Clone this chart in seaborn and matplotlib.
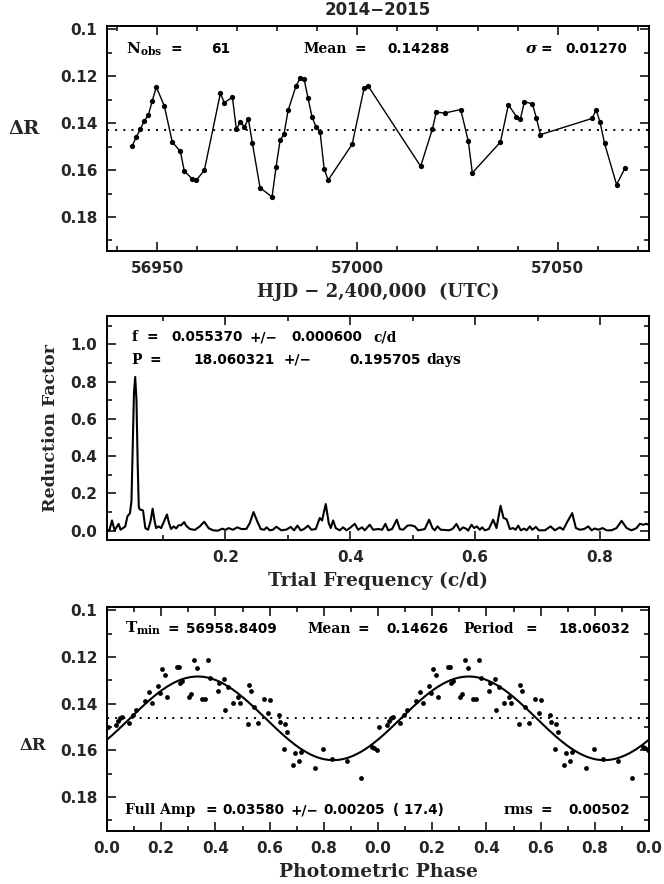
import numpy as np
import matplotlib
matplotlib.use("Agg")
import matplotlib.pyplot as plt
from matplotlib.ticker import MultipleLocator, FuncFormatter
import seaborn as sns

# ---- 2014-2015 light curve
hjd = [56943.8, 56944.8, 56945.8, 56946.8, 56947.8, 56948.8, 56949.8, 56951.8, 56953.8, 56955.8,
       56956.8, 56958.8, 56959.8, 56961.8, 56965.8, 56966.8, 56968.8, 56969.8, 56970.8, 56971.8,
       56972.8, 56973.8, 56975.7, 56978.7, 56979.7, 56980.7, 56981.7, 56982.7, 56984.7, 56985.7,
       56986.7, 56987.7, 56988.7, 56989.7, 56990.7, 56991.7, 56992.7, 56998.7, 57001.7, 57002.7,
       57015.8, 57018.7, 57019.7, 57021.8, 57025.8, 57027.7, 57028.7, 57035.7, 57037.7, 57039.7,
       57040.7, 57041.7, 57043.7, 57044.7, 57045.7, 57058.6, 57059.6, 57060.6, 57061.7, 57064.7,
       57066.8]
dr = [0.1497, 0.1459, 0.1427, 0.1390, 0.1367, 0.1305, 0.1246, 0.1326, 0.1481, 0.1520,
      0.1604, 0.1638, 0.1643, 0.1601, 0.1273, 0.1313, 0.1289, 0.1427, 0.1394, 0.1416,
      0.1383, 0.1486, 0.1675, 0.1715, 0.1588, 0.1474, 0.1446, 0.1346, 0.1241, 0.1209,
      0.1212, 0.1295, 0.1375, 0.1416, 0.1439, 0.1594, 0.1643, 0.1490, 0.1249, 0.1242,
      0.1584, 0.1427, 0.1353, 0.1357, 0.1342, 0.1478, 0.1612, 0.1481, 0.1322, 0.1372,
      0.1382, 0.1309, 0.1318, 0.1379, 0.1449, 0.1380, 0.1343, 0.1397, 0.1486, 0.1662,
      0.1592]
n_obs = 61
mean_dr = 0.14288
sigma_dr = 0.01270

# ---- periodogram
freq = [0.0103, 0.0108, 0.014, 0.0183, 0.0225, 0.029, 0.032, 0.036, 0.0396, 0.043,
        0.0471, 0.0495, 0.0515, 0.0535, 0.0555, 0.0575, 0.0595, 0.0612, 0.0625, 0.065,
        0.068, 0.0717, 0.076, 0.080, 0.0834, 0.0866, 0.089, 0.093, 0.097, 0.1027,
        0.1064, 0.1096, 0.113, 0.117, 0.121, 0.125, 0.129, 0.134, 0.137, 0.143,
        0.151, 0.159, 0.166, 0.173, 0.180, 0.188, 0.195, 0.200, 0.205, 0.212,
        0.219, 0.2255, 0.2335, 0.239, 0.245, 0.251, 0.2565, 0.262, 0.266, 0.271,
        0.276, 0.2816, 0.2896, 0.2977, 0.3046, 0.310, 0.3153, 0.3206, 0.326, 0.3324,
        0.3377, 0.3447, 0.3511, 0.3548, 0.3607, 0.3655, 0.3687, 0.3725, 0.3767, 0.3831,
        0.3885, 0.3938, 0.3992, 0.4072, 0.4125, 0.4189, 0.4232, 0.4312, 0.4366, 0.4446,
        0.451, 0.4563, 0.4606, 0.467, 0.4745, 0.4793, 0.4846, 0.4916, 0.4969, 0.5033,
        0.5087, 0.514, 0.5194, 0.5263, 0.5316, 0.5354, 0.5397, 0.545, 0.5514, 0.5578,
        0.5637, 0.5701, 0.5754, 0.5808, 0.5862, 0.5888, 0.5942, 0.5985, 0.6027, 0.6075,
        0.6113, 0.6155, 0.6219, 0.6289, 0.6342, 0.6407, 0.6455, 0.6503, 0.6556, 0.661,
        0.6647, 0.669, 0.6732, 0.6786, 0.6823, 0.6877, 0.6914, 0.6973, 0.7021, 0.7117,
        0.7208, 0.7277, 0.7357, 0.741, 0.748, 0.7555, 0.7614, 0.7678, 0.7747, 0.7812,
        0.7865, 0.7918, 0.7972, 0.8041, 0.8105, 0.8185, 0.8265, 0.8346, 0.8426, 0.8506,
        0.8586, 0.8639, 0.8693, 0.8746, 0.8785]
power = [0.010, 0.005, 0.000, 0.055, 0.002, 0.036, 0.005, 0.014, 0.023, 0.077,
         0.094, 0.160, 0.450, 0.740, 0.825, 0.700, 0.350, 0.130, 0.115, 0.112,
         0.108, 0.014, 0.005, 0.050, 0.118, 0.050, 0.014, 0.023, 0.014, 0.059,
         0.087, 0.041, 0.009, 0.023, 0.012, 0.029, 0.029, 0.046, 0.027, 0.009,
         0.004, 0.023, 0.048, 0.014, 0.002, 0.000, 0.011, 0.004, 0.014, 0.005,
         0.018, 0.009, 0.009, 0.041, 0.100, 0.050, 0.009, 0.005, 0.018, 0.002,
         0.005, 0.021, 0.002, 0.006, 0.020, 0.002, 0.027, 0.002, 0.009, 0.027,
         0.005, 0.009, 0.068, 0.055, 0.143, 0.041, 0.014, 0.055, 0.014, 0.002,
         0.018, 0.002, 0.014, 0.037, 0.005, 0.018, 0.002, 0.032, 0.005, 0.009,
         0.005, 0.037, 0.002, 0.009, 0.059, 0.009, 0.005, 0.027, 0.029, 0.023,
         0.002, 0.005, 0.009, 0.059, 0.014, 0.002, 0.023, 0.005, 0.004, 0.002,
         0.009, 0.036, 0.002, 0.018, 0.009, 0.000, 0.032, 0.014, 0.023, 0.005,
         0.018, 0.002, 0.009, 0.059, 0.014, 0.134, 0.068, 0.062, 0.009, 0.014,
         0.005, 0.027, 0.002, 0.011, 0.002, 0.023, 0.005, 0.020, 0.002, 0.002,
         0.023, 0.002, 0.018, 0.005, 0.050, 0.094, 0.014, 0.005, 0.009, 0.023,
         0.002, 0.012, 0.005, 0.014, 0.002, 0.002, 0.014, 0.053, 0.014, 0.002,
         0.014, 0.037, 0.032, 0.037, 0.030]
f_best, f_err = 0.055370, 0.000600
p_best, p_err = 18.060321, 0.195705

# ---- phased light curve (one cycle, drawn twice)
phase = [0.003, 0.035, 0.041, 0.047, 0.054, 0.081, 0.096, 0.106, 0.142, 0.154,
         0.165, 0.190, 0.195, 0.2025, 0.215, 0.221, 0.259, 0.267, 0.269, 0.278,
         0.302, 0.309, 0.320, 0.331, 0.352, 0.362, 0.374, 0.380, 0.409, 0.415,
         0.430, 0.436, 0.446, 0.464, 0.485, 0.491, 0.520, 0.525, 0.532, 0.544,
         0.556, 0.580, 0.593, 0.602, 0.633, 0.640, 0.652, 0.658, 0.664, 0.686,
         0.695, 0.707, 0.717, 0.769, 0.798, 0.831, 0.886, 0.936, 0.979, 0.985,
         0.995]
dr_phased = [0.1499, 0.1491, 0.1473, 0.1463, 0.1456, 0.1484, 0.1449, 0.1427, 0.1389, 0.1349,
             0.1395, 0.1325, 0.1356, 0.1252, 0.1278, 0.1370, 0.1244, 0.1244, 0.1313, 0.1303,
             0.1373, 0.1359, 0.1211, 0.1249, 0.1380, 0.1380, 0.1215, 0.1289, 0.1346, 0.1313,
             0.1296, 0.1427, 0.1330, 0.1399, 0.1373, 0.1395, 0.1489, 0.1320, 0.1345, 0.1416,
             0.1481, 0.1380, 0.1439, 0.1386, 0.1449, 0.1480, 0.1595, 0.1487, 0.1523, 0.1662,
             0.1613, 0.1645, 0.1607, 0.1677, 0.1594, 0.1638, 0.1644, 0.1717, 0.1584, 0.1590,
             0.1600]
t_min = 56958.8409
fit_mean = 0.14626
period = 18.06032
full_amp, amp_err, amp_snr = 0.03580, 0.00205, 17.4
rms = 0.00502
faint_phase = 0.835   # phase of the fitted curve's maximum dR

SERIF = "DejaVu Serif"
SANS = "DejaVu Sans"

sns.set_theme(style="ticks")
plt.rcParams["font.family"] = [SANS]
plt.rcParams["mathtext.fontset"] = "dejavuserif"
plt.rcParams["axes.linewidth"] = 1.4

fig = plt.figure(figsize=(6.64, 8.84), dpi=100)
L, W = 107 / 664, 542 / 664
ax1 = fig.add_axes([L, 1 - 251 / 884, W, 225 / 884])
ax2 = fig.add_axes([L, 1 - 540 / 884, W, 224 / 884])
ax3 = fig.add_axes([L, 1 - 831 / 884, W, 224 / 884])


def style_axis(ax):
    ax.tick_params(which="both", direction="in", top=True, right=True,
                   color="black", width=1.1, labelsize=11, pad=7)
    ax.tick_params(which="major", length=6.5)
    ax.tick_params(which="minor", length=3.3)
    for lab in ax.get_xticklabels() + ax.get_yticklabels():
        lab.set_fontweight("bold")
    for sp in ax.spines.values():
        sp.set_visible(True)
        sp.set_color("black")


def word(ax, x, y, s, size=10, style="normal"):
    ax.text(x, y, s, transform=ax.transAxes, ha="left", va="center",
            family=SERIF, fontweight="bold", fontstyle=style, fontsize=size, color="black")


def num(ax, x, y, s, size=9.8):
    ax.text(x, y, s, transform=ax.transAxes, ha="left", va="center",
            family=SANS, fontweight="bold", fontsize=size, color="black")


dot_style = dict(color="black", lw=1.4, ls=(0, (1, 3.2)))

# ---------------- top: light curve
sns.lineplot(x=hjd, y=dr, ax=ax1, color="black", lw=1.0, marker="o", markersize=3.8,
             markeredgewidth=0, sort=False, estimator=None)
ax1.axhline(mean_dr, **dot_style)
ax1.set_xlim(56937.5, 57072.8)
ax1.set_ylim(0.1945, 0.0986)
ax1.xaxis.set_major_locator(MultipleLocator(50))
ax1.xaxis.set_minor_locator(MultipleLocator(10))
ax1.yaxis.set_major_locator(MultipleLocator(0.02))
ax1.yaxis.set_minor_locator(MultipleLocator(0.01))
ax1.xaxis.set_major_formatter(FuncFormatter(lambda v, p: f"{v:.0f}"))
ax1.yaxis.set_major_formatter(FuncFormatter(lambda v, p: f"{v:g}"))
ax1.set_xlabel("HJD \u2212 2,400,000  (UTC)", family=SERIF, fontweight="bold",
               fontsize=13, labelpad=5)
ax1.set_ylabel("")
style_axis(ax1)
ax1.text(-0.153, 0.54, "\u0394R", transform=ax1.transAxes, ha="center", va="center",
         family=SERIF, fontweight="bold", fontsize=14)
yt = 0.896
word(ax1, 0.035, yt, r"$\mathbf{N_{obs}}$", 11)
word(ax1, 0.118, yt, "=")
num(ax1, 0.193, yt, f"{n_obs}")
word(ax1, 0.362, yt, "Mean")
word(ax1, 0.456, yt, "=")
num(ax1, 0.518, yt, f"{mean_dr:.5f}")
word(ax1, 0.772, yt, "\u03c3", 11, "italic")
word(ax1, 0.799, yt, "=")
num(ax1, 0.845, yt, f"{sigma_dr:.5f}")
fig.text(378 / 664, 1 - 10 / 884, "2014\u22122015", ha="center", va="center",
         family=SANS, fontweight="bold", fontsize=12)

# ---------------- middle: periodogram
sns.lineplot(x=freq, y=power, ax=ax2, color="black", lw=1.5, sort=False, estimator=None)
ax2.set_xlim(0.0103, 0.8785)
ax2.set_ylim(-0.05, 1.152)
ax2.xaxis.set_major_locator(MultipleLocator(0.2))
ax2.xaxis.set_minor_locator(MultipleLocator(0.1))
ax2.yaxis.set_major_locator(MultipleLocator(0.2))
ax2.yaxis.set_minor_locator(MultipleLocator(0.1))
ax2.xaxis.set_major_formatter(FuncFormatter(lambda v, p: f"{v:.1f}"))
ax2.yaxis.set_major_formatter(FuncFormatter(lambda v, p: f"{v:.1f}"))
ax2.set_xlabel("Trial Frequency (c/d)", family=SERIF, fontweight="bold",
               fontsize=13.5, labelpad=5)
ax2.set_ylabel("Reduction Factor", family=SERIF, fontweight="bold", fontsize=12.5,
               labelpad=8)
style_axis(ax2)
yf, yp = 0.905, 0.805
word(ax2, 0.045, yf, "f")
word(ax2, 0.072, yf, "=")
num(ax2, 0.119, yf, f"{f_best:.6f}")
num(ax2, 0.263, yf, "+/\u2212")
num(ax2, 0.341, yf, f"{f_err:.6f}")
word(ax2, 0.491, yf, "c/d")
word(ax2, 0.045, yp, "P")
word(ax2, 0.079, yp, "=")
num(ax2, 0.159, yp, f"{p_best:.6f}")
num(ax2, 0.325, yp, "+/\u2212")
num(ax2, 0.448, yp, f"{p_err:.6f}")
word(ax2, 0.590, yp, "days")

# ---------------- bottom: phased curve
ph_all = list(phase) + [p + 1 for p in phase]
dr_all = list(dr_phased) * 2
sns.scatterplot(x=ph_all, y=dr_all, ax=ax3, color="black", s=12, linewidth=0)
grid = np.linspace(0, 2, 400)
fit = fit_mean + 0.5 * full_amp * np.cos(2 * np.pi * (grid - faint_phase))
sns.lineplot(x=grid, y=fit, ax=ax3, color="black", lw=1.5, sort=False, estimator=None)
ax3.axhline(fit_mean, **dot_style)
ax3.set_xlim(0, 2)
ax3.set_ylim(0.1945, 0.0986)
ax3.xaxis.set_major_locator(MultipleLocator(0.2))
ax3.xaxis.set_minor_locator(MultipleLocator(0.1))
ax3.yaxis.set_major_locator(MultipleLocator(0.02))
ax3.yaxis.set_minor_locator(MultipleLocator(0.01))
ax3.xaxis.set_major_formatter(FuncFormatter(lambda v, p: f"{(v + 1e-9) % 1:.1f}"))
ax3.yaxis.set_major_formatter(FuncFormatter(lambda v, p: f"{v:g}"))
ax3.set_xlabel("Photometric Phase", family=SERIF, fontweight="bold", fontsize=13.5, labelpad=5)
ax3.set_ylabel("")
style_axis(ax3)
ax3.text(-0.137, 0.383, "\u0394R", transform=ax3.transAxes, ha="center", va="center",
         family=SERIF, fontweight="bold", fontsize=12)
yt, yb = 0.904, 0.0925
word(ax3, 0.033, yt, r"$\mathbf{T_{min}}$", 11)
word(ax3, 0.111, yt, "=")
num(ax3, 0.146, yt, f"{t_min:.4f}")
word(ax3, 0.369, yt, "Mean")
word(ax3, 0.462, yt, "=")
num(ax3, 0.516, yt, f"{fit_mean:.5f}")
word(ax3, 0.657, yt, "Period")
word(ax3, 0.773, yt, "=")
num(ax3, 0.832, yt, f"{period:.5f}")
word(ax3, 0.033, yb, "Full Amp")
word(ax3, 0.181, yb, "=")
num(ax3, 0.212, yb, f"{full_amp:.5f}")
num(ax3, 0.338, yb, "+/\u2212")
num(ax3, 0.400, yb, f"{amp_err:.5f}")
num(ax3, 0.528, yb, f"( {amp_snr:.1f})")
word(ax3, 0.731, yb, "rms")
word(ax3, 0.799, yb, "=")
num(ax3, 0.851, yb, f"{rms:.5f}")

fig.savefig("out.png", dpi=100)
